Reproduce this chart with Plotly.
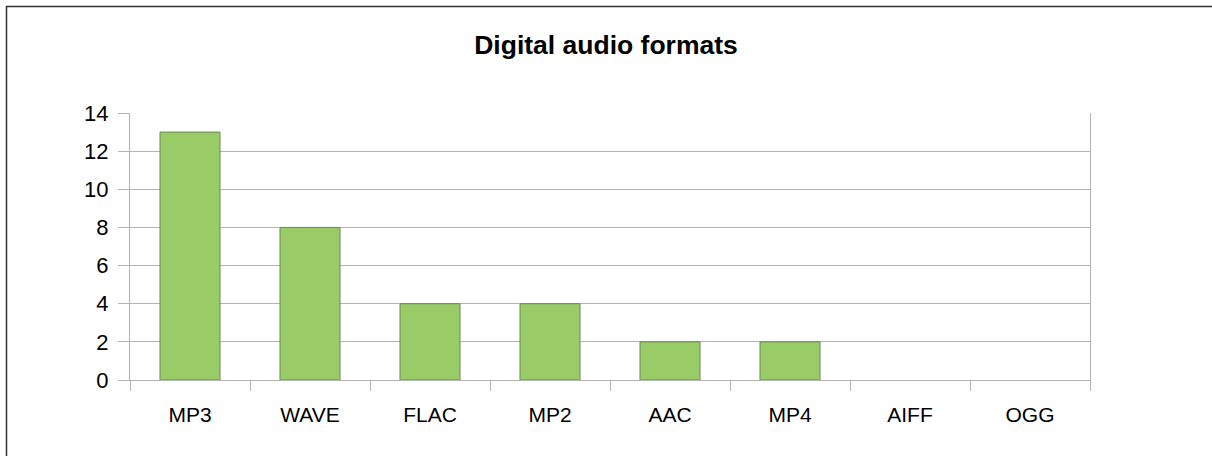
import plotly.graph_objects as go

categories = ["MP3", "WAVE", "FLAC", "MP2", "AAC", "MP4", "AIFF", "OGG"]
values = [13, 8, 4, 4, 2, 2, 0, 0]
y_ticks = [0, 2, 4, 6, 8, 10, 12, 14]

W, H = 1212, 456
L, R, T, B = 130, 122, 113, 76
pw, ph = W - L - R, H - T - B

def px_x(p):
    return (p - L) / pw

def px_y(p):
    return (H - B - p) / ph

fig = go.Figure()
fig.add_trace(go.Bar(
    x=categories, y=values,
    marker=dict(color="#99cc66",
                line=dict(color="#6b8752", width=[1 if v > 0 else 0 for v in values])),
))

grid = "#b3b3b3"
fig.update_layout(
    width=W, height=H,
    margin=dict(l=L, r=R, t=T, b=B, pad=0),
    paper_bgcolor="white", plot_bgcolor="white",
    bargap=0.5,
    showlegend=False,
    font=dict(family="Liberation Sans, Arial, sans-serif", color="black", size=21),
    title=dict(text="<b>Digital audio formats</b>", x=0.5, xanchor="center",
               y=1 - 45 / H, yanchor="middle", yref="container",
               font=dict(size=26.5, color="black")),
    xaxis=dict(showline=True, linecolor=grid, linewidth=1, mirror=False,
               ticks="outside", tickson="boundaries", ticklen=10, tickcolor=grid,
               showgrid=False, ticklabelstandoff=16, tickfont=dict(size=21)),
    yaxis=dict(range=[0, 14], tickvals=y_ticks, showline=True, linecolor=grid,
               linewidth=1, mirror=True, ticks="outside", ticklen=11, tickcolor=grid,
               gridcolor=grid, gridwidth=1, zeroline=False, ticklabelstandoff=5,
               tickfont=dict(size=22)),
    shapes=[dict(type="rect", xref="paper", yref="paper",
                 x0=px_x(6.5), x1=px_x(1230), y0=px_y(480), y1=px_y(6.5),
                 line=dict(color="#333333", width=1.5), fillcolor="rgba(0,0,0,0)")],
)

fig.write_html("out.html")
